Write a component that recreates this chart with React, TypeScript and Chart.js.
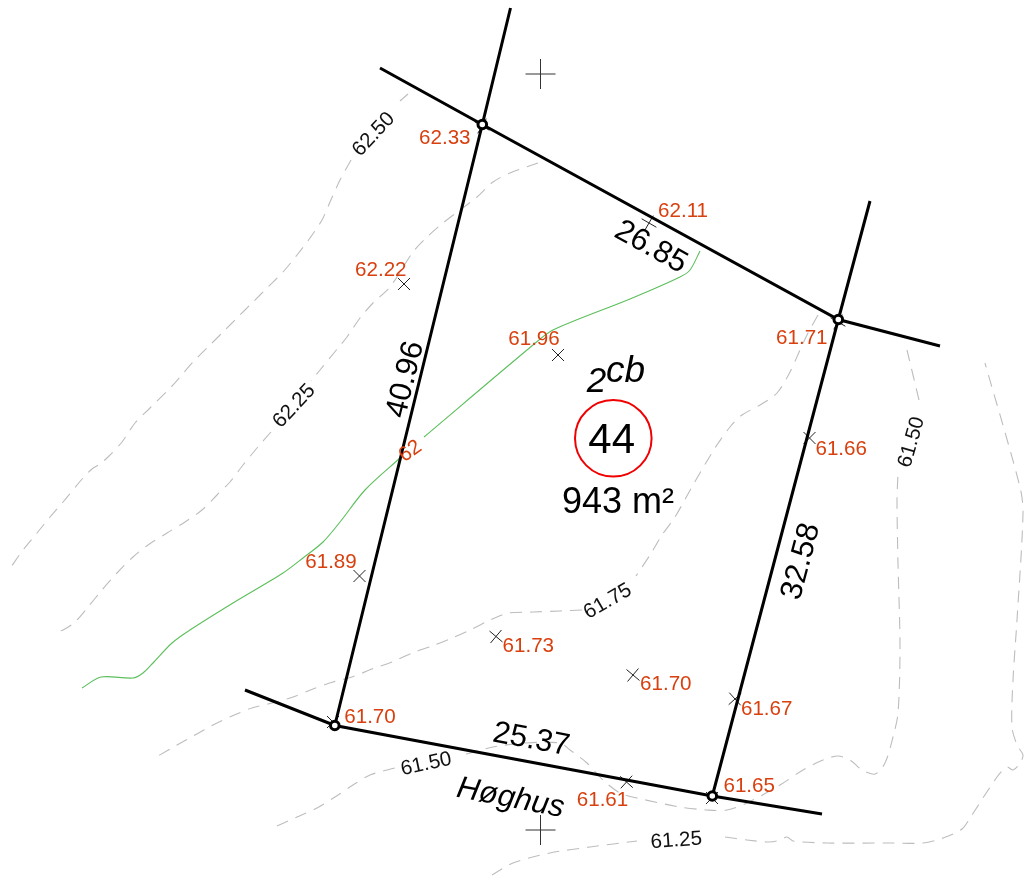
import React, { useEffect, useRef } from "react";
import { Chart, registerables } from "chart.js";

Chart.register(...registerables);

type P = [number, number];
type L = [string, number, number, number?];

// map extent
const mapWidth = 1024;
const mapHeight = 877;

// property boundary lines
const boundaryWest: P[] = [[510.5, 8], [482.3, 124.5], [334.8, 725.5]];
const boundaryNorth: P[] = [[380, 68], [482.3, 124.5], [838.3, 319.5], [940, 346]];
const boundaryEast: P[] = [[870, 201], [838.3, 319.5], [712.3, 796]];
const boundarySouth: P[] = [[245, 690], [334.8, 725.5], [712.3, 796], [822, 814]];

// boundary corner points
const corners: P[] = [[482.3, 124.5], [838.3, 319.5], [334.8, 725.5], [712.3, 796]];

// contour lines
const contour6250a: P[] = [[408, 94], [400, 101]];
const contour6250b: P[] = [[351, 160], [340, 180], [330, 202], [322, 220], [310, 238], [297, 255], [283, 272], [268, 287], [253, 302], [238, 317], [223, 332], [208, 347], [193, 362], [180, 377], [172, 386], [150, 408], [135, 423], [122, 442], [108, 457], [100, 464], [92, 469], [83, 478], [63, 502], [50, 517], [37, 533], [23, 550], [11, 567]];
const contour6225a: P[] = [[538, 163], [510, 173], [493, 182], [477, 197], [460, 210], [443, 223], [427, 237], [413, 252], [390, 287], [373, 303], [360, 318], [347, 337], [338, 348], [320, 370], [311, 381]];
const contour6225b: P[] = [[271, 432], [257, 448], [243, 465], [230, 482], [217, 495], [202, 510], [185, 522], [167, 533], [148, 545], [133, 557], [117, 573], [102, 590], [88, 607], [75, 622], [63, 630], [53, 632]];
const contour6175a: P[] = [[818, 315], [808, 333], [800, 350], [790, 372], [777, 393], [760, 405], [742, 415], [730, 427], [715, 448], [693, 485], [675, 517], [662, 535], [650, 555], [636, 576]];
const contour6175b: P[] = [[582, 610], [560, 611], [533, 612], [508, 613], [497, 617], [490, 620], [470, 630], [452, 638], [432, 646], [412, 653], [392, 662], [372, 669], [352, 677], [333, 682], [313, 689], [293, 697], [272, 703], [252, 708], [232, 716], [213, 725], [195, 735], [177, 745], [158, 756]];
const contour6150a: P[] = [[277, 826], [297, 817], [317, 808], [335, 797], [353, 785], [370, 775], [395, 768]];
const contour6150b: P[] = [[466, 754], [493, 747], [525, 743], [560, 743], [570, 750], [587, 763], [603, 780], [620, 793], [637, 798], [680, 807], [707, 810], [727, 810], [747, 803], [780, 785], [803, 770], [823, 760], [838, 756], [850, 760], [862, 770], [875, 774], [885, 763], [893, 737], [898, 713], [900, 647], [898, 563], [897, 500], [898, 474]];
const contour6150c: P[] = [[919, 400], [907, 350]];
const contour6125a: P[] = [[492, 875], [513, 863], [550, 853], [590, 847], [637, 841]];
const contour6125b: P[] = [[725, 837], [747, 840], [767, 842], [777, 841], [787, 837], [793, 841], [827, 843], [893, 843], [923, 843], [943, 838], [962, 829], [970, 818], [997, 777], [1007, 767], [1013, 770], [1020, 763], [1023, 755], [1017, 745], [1012, 727], [1013, 680], [1017, 620], [1023, 513], [1020, 487], [985, 363]];

// watercourse
const streamA: P[] = [[82, 688], [101, 677], [133, 678], [143, 673], [153, 663], [172, 643], [190, 630], [233, 603], [283, 573], [303, 558], [323, 542], [340, 522], [365, 490], [400, 458]];
const streamB: P[] = [[424, 437], [533, 345], [553, 330], [630, 299], [680, 277], [690, 270], [700, 251]];

// survey marks
const spotMarks: P[] = [[404, 284], [649, 223], [558, 355], [359.5, 576], [496, 636.5], [633, 675], [735, 699], [626.5, 782], [809.5, 438], [482, 126], [838, 322], [333, 722], [712, 798]];
const spotRotations = [45, 30, 45, 45, 40, 40, 48, 42, 45, 30, 30, 45, 45];
const gridMarks: P[] = [[540.5, 74], [540.5, 830]];
const parcelCircle: P[] = [[613.3, 438.3]];

// text: [label, x, y, angle]
const spotHeights: L[] = [
  ["62.33", 444.8, 137], ["62.22", 380.8, 268.5], ["62.11", 683, 210], ["61.96", 534, 338],
  ["61.71", 801.8, 336.7], ["61.66", 841.2, 447.5], ["61.89", 331, 561], ["62", 409.3, 450, -35],
  ["61.73", 528.3, 644.5], ["61.70", 665.8, 682.5], ["61.67", 766.7, 707.5], ["61.65", 749.2, 785],
  ["61.61", 602.5, 799], ["61.70", 370, 715.8],
];
const contourLabels: L[] = [
  ["62.50", 372.5, 133.3, -47], ["62.25", 293, 405, -47], ["61.75", 607, 600, -30],
  ["61.50", 425.8, 762.6, -12], ["61.25", 676.2, 839, -4], ["61.50", 910, 441.7, -74],
];
const lengthLabels: L[] = [
  ["26.85", 652, 245, 29], ["40.96", 403.3, 379, -76], ["32.58", 798.8, 560.8, -75], ["25.37", 531.7, 737.4, 10.6],
];
const streetName: L[] = [["Høghus", 511, 796, 11]];
const zoneBase: L[] = [["2", 596.5, 379, 0]];
const zoneSuffix: L[] = [["cb", 625.5, 369, 0]];
const parcelNumber: L[] = [["44", 611.7, 438.3, 0]];
const areaLabel: L[] = [["943 m²", 618, 499.8, 0]];

const FONT = '"Liberation Sans", Arial, sans-serif';
const xy = (a: P[]) => a.map(([x, y]) => ({ x, y }));

const textPlugin = {
  id: "mapText",
  afterDatasetsDraw(chart: any) {
    const { ctx, scales } = chart;
    const draw = (items: L[], size: number, color: string, italic = false) => {
      for (const [t, x, y, a] of items) {
        ctx.save();
        ctx.translate(scales.x.getPixelForValue(x), scales.y.getPixelForValue(y));
        ctx.rotate(((a ?? 0) * Math.PI) / 180);
        ctx.font = `${italic ? "italic " : ""}${size}px ${FONT}`;
        ctx.fillStyle = color;
        ctx.textAlign = "center";
        ctx.textBaseline = "alphabetic";
        ctx.fillText(t, 0, 0.358 * size);
        ctx.restore();
      }
    };
    draw(spotHeights, 20.6, "#d8400f");
    draw(contourLabels, 20.6, "#111");
    draw(lengthLabels, 31, "#000");
    draw(streetName, 31, "#000", true);
    draw(zoneBase, 35, "#000", true);
    draw(zoneSuffix, 37, "#000", true);
    draw(parcelNumber, 42, "#000");
    draw(areaLabel, 36, "#000");
  },
};

export default function App() {
  const ref = useRef<HTMLCanvasElement>(null);
  useEffect(() => {
    const line = (data: P[], color: string, width: number, dash: number[] = [], tension = 0, order = 5) => ({
      type: "line" as const,
      data: xy(data),
      borderColor: color,
      borderWidth: width,
      borderDash: dash,
      tension,
      pointRadius: 0,
      fill: false,
      clip: false,
      order,
    });
    const contours = [contour6250a, contour6250b, contour6225a, contour6225b, contour6175a, contour6175b, contour6150a, contour6150b, contour6150c, contour6125a, contour6125b];
    const chart = new Chart(ref.current!, {
      type: "scatter",
      data: {
        datasets: [
          ...contours.map((c) => line(c, "#bdbdbd", 1.1, [12, 8], 0.3, 6)),
          line(streamA, "#5cbf5c", 1.1, [], 0.3, 5),
          line(streamB, "#5cbf5c", 1.1, [], 0.3, 5),
          { type: "scatter", data: xy(spotMarks), pointStyle: "cross", pointRadius: 8.5, pointRotation: spotRotations, pointBorderColor: "#222", pointBorderWidth: 1, order: 4 } as any,
          { type: "scatter", data: xy(gridMarks), pointStyle: "cross", pointRadius: 15, pointBorderColor: "#333", pointBorderWidth: 1, order: 4 } as any,
          { type: "scatter", data: xy(parcelCircle), pointRadius: 38.3, pointBackgroundColor: "transparent", pointBorderColor: "#f00000", pointBorderWidth: 2, order: 3 } as any,
          line(boundaryWest, "#000", 3, [], 0, 2),
          line(boundaryNorth, "#000", 3, [], 0, 2),
          line(boundaryEast, "#000", 3, [], 0, 2),
          line(boundarySouth, "#000", 3, [], 0, 2),
          { type: "scatter", data: xy(corners), pointRadius: 4.3, pointBackgroundColor: "#fff", pointBorderColor: "#000", pointBorderWidth: 3, order: 1 } as any,
        ],
      },
      options: {
        animation: false,
        responsive: false,
        devicePixelRatio: 1,
        layout: { padding: 0, autoPadding: false },
        plugins: { legend: { display: false }, tooltip: { enabled: false } },
        events: [],
        scales: {
          x: { type: "linear", display: false, min: 0, max: mapWidth },
          y: { type: "linear", display: false, min: 0, max: mapHeight, reverse: true },
        },
      },
      plugins: [textPlugin],
    } as any);
    return () => chart.destroy();
  }, []);
  return (
    <div style={{ position: "absolute", left: 0, top: 0, width: mapWidth, height: mapHeight, background: "#fff" }}>
      <canvas ref={ref} width={mapWidth} height={mapHeight} style={{ display: "block" }} />
    </div>
  );
}
